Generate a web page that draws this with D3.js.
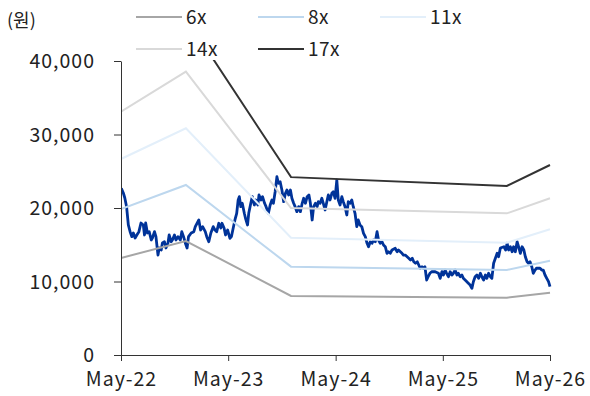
<!DOCTYPE html>
<html>
<head>
<meta charset="utf-8">
<script src="https://cdn.jsdelivr.net/npm/d3@7"></script>
<style>
  body { margin: 0; background: #fff; }
  svg text { font-family: "Noto Sans CJK KR", "Noto Sans", sans-serif; fill: #222; }
</style>
</head>
<body>
<div id="chart"></div>
<script>
// 주가 (원)
var priceDates = [
  "2022-05-02","2022-05-09","2022-05-14","2022-05-20","2022-05-26","2022-06-01","2022-06-07","2022-06-12","2022-06-18","2022-06-24",
  "2022-07-01","2022-07-08","2022-07-16","2022-07-20","2022-07-24","2022-07-30","2022-08-05","2022-08-12","2022-08-16","2022-08-23",
  "2022-08-28","2022-09-04","2022-09-08","2022-09-15","2022-09-19","2022-09-26","2022-10-01","2022-10-08","2022-10-12","2022-10-19",
  "2022-10-23","2022-10-30","2022-11-04","2022-11-11","2022-11-19","2022-11-24","2022-11-30","2022-12-06","2022-12-12","2022-12-17",
  "2022-12-26","2023-01-04","2023-01-09","2023-01-21","2023-01-27","2023-02-03","2023-02-12","2023-02-17","2023-02-24","2023-03-03",
  "2023-03-11","2023-03-17","2023-03-23","2023-03-30","2023-04-06","2023-04-10","2023-04-17","2023-04-22","2023-04-29","2023-05-07",
  "2023-05-12","2023-05-18","2023-05-24","2023-05-30","2023-06-04","2023-06-08","2023-06-13","2023-06-18","2023-06-25","2023-06-29",
  "2023-07-06","2023-07-10","2023-07-17","2023-07-22","2023-07-29","2023-08-03","2023-08-10","2023-08-14","2023-08-21","2023-08-26",
  "2023-09-02","2023-09-07","2023-09-15","2023-09-21","2023-09-27","2023-10-02","2023-10-08","2023-10-14","2023-10-19","2023-10-25",
  "2023-10-31","2023-11-06","2023-11-12","2023-11-17","2023-11-23","2023-11-29","2023-12-04","2023-12-10","2023-12-15","2023-12-21",
  "2023-12-27","2024-01-02","2024-01-08","2024-01-13","2024-01-19","2024-01-25","2024-01-31","2024-02-05","2024-02-11","2024-02-16",
  "2024-02-22","2024-02-28","2024-03-03","2024-03-09","2024-03-15","2024-03-20","2024-03-26","2024-04-01","2024-04-06","2024-04-12",
  "2024-04-18","2024-04-23","2024-04-29","2024-05-05","2024-05-10","2024-05-16","2024-05-22","2024-05-27","2024-06-02","2024-06-08",
  "2024-06-13","2024-06-19","2024-06-25","2024-06-30","2024-07-06","2024-07-12","2024-07-17","2024-07-23","2024-07-29","2024-08-04",
  "2024-08-10","2024-08-16","2024-08-21","2024-08-27","2024-09-02","2024-09-07","2024-09-13","2024-09-19","2024-09-24","2024-09-30",
  "2024-10-06","2024-10-11","2024-10-17","2024-10-23","2024-10-28","2024-11-03","2024-11-09","2024-11-20","2024-11-26","2024-12-01",
  "2024-12-13","2024-12-18","2024-12-24","2025-01-05","2025-01-11","2025-01-17","2025-01-22","2025-01-28","2025-02-03","2025-02-08",
  "2025-02-13","2025-02-19","2025-02-24","2025-03-01","2025-03-07","2025-03-12","2025-03-18","2025-03-24","2025-04-05","2025-04-16",
  "2025-04-22","2025-04-28","2025-05-03","2025-05-09","2025-05-14","2025-05-20","2025-05-26","2025-06-01","2025-06-06","2025-06-12",
  "2025-06-18","2025-06-23","2025-06-29","2025-07-05","2025-07-10","2025-07-16","2025-07-22","2025-07-27","2025-08-02","2025-08-08",
  "2025-08-13","2025-08-19","2025-08-25","2025-08-31","2025-09-06","2025-09-11","2025-09-17","2025-09-23","2025-09-28","2025-10-04",
  "2025-10-10","2025-10-15","2025-10-21","2025-10-27","2025-11-02","2025-11-07","2025-11-13","2025-11-25","2025-12-01","2025-12-06",
  "2025-12-11","2025-12-17","2025-12-23","2025-12-28","2026-01-03","2026-01-09","2026-01-14","2026-01-20","2026-01-26","2026-02-01",
  "2026-02-06","2026-02-12","2026-02-17","2026-02-22","2026-02-28","2026-03-05","2026-03-11","2026-03-16","2026-03-28","2026-04-03",
  "2026-04-08","2026-04-14","2026-04-20","2026-04-26","2026-05-01"
];
var priceValues = [
  22680,22040,21360,20180,17690,16780,16100,16600,15920,16330,
  16780,17960,17690,16330,17960,16600,16780,15650,15920,16780,
  16100,13600,14560,14290,15240,15410,14560,15240,16330,15410,
  15650,16330,15650,16100,15650,16780,16100,15240,14560,16100,
  16600,16780,17460,18370,17010,17460,16780,16100,15410,16600,
  17460,17010,16780,17920,17280,17920,17280,16330,17010,15880,
  16100,17240,18370,19280,21090,21540,20180,20640,19280,18600,
  17690,19280,20640,21540,20410,21090,20410,21770,21090,21540,
  20640,20180,19280,20410,21090,20640,22220,24260,23360,23580,
  22450,20860,22000,22450,21770,22450,21320,20640,20180,19500,
  20180,19500,20640,21320,20640,21540,21770,20640,18370,20180,
  20640,20180,20860,20640,21320,20640,19730,20860,21770,21090,
  22000,22220,21320,23810,21090,20410,21540,20860,20180,19050,
  20860,20640,21090,20180,19280,17460,18370,17690,17460,16560,
  16100,15200,14730,15410,15200,15650,15410,16780,15650,15200,
  15410,14970,14730,13840,14050,13840,14290,14520,14050,14290,
  13840,13600,13600,13160,12920,13160,12690,12480,12690,12240,
  11800,12010,11800,12010,10200,10650,11120,11330,11330,11120,
  10430,11330,10880,11560,11120,10650,11330,10880,11120,11560,
  10880,11120,10650,10880,10430,10200,9970,9750,9520,9070,
  9970,10650,10880,10430,11120,10650,10200,10880,10430,11120,
  10650,10430,12480,13160,13840,13370,14560,14730,14290,15200,
  14290,14730,14050,14730,14050,15410,14730,13840,14730,14290,
  13370,12690,12480,12690,12010,11120,11560,11800,11800,11560,
  11560,10880,10430,9970,9290
];

// PER 밴드
var bandDates = ["2022-05-01", "2022-12-08", "2023-12-01", "2025-12-05", "2026-05-01"];
var band6x  = [13200, 15510, 8030, 7800, 8480];
var band8x  = [19860, 23130, 12020, 11570, 12830];
var band11x = [26670, 30840, 15960, 15280, 17100];
var band14x = [33110, 38550, 20000, 19270, 21320];
var band17x = [40300, 45900, 24200, 23000, 25850];
var bandNames = ["6x", "8x", "11x", "14x", "17x"];
var bandColors = ["#a6a6a6", "#bdd7ee", "#e3effa", "#d9d9d9", "#333333"];

var xTickDates = ["2022-05-01", "2023-05-01", "2024-05-01", "2025-05-01", "2026-05-01"];
var yTicks = [0, 10000, 20000, 30000, 40000];

var chartW = 590, chartH = 396;
var plotLeft = 121, plotRight = 550, plotTop = 61, plotBottom = 355;
var parse = d3.timeParse("%Y-%m-%d");
var labelFont = '"Noto Sans CJK KR", "Noto Sans", sans-serif';

var svg = d3.select('#chart')
            .append('svg')
            .attr('width', chartW)
            .attr('height', chartH);

var x = d3.scaleTime()
          .domain([parse(xTickDates[0]), parse(xTickDates[xTickDates.length - 1])])
          .range([plotLeft, plotRight]);
var y = d3.scaleLinear()
          .domain([0, 40000])
          .range([plotBottom, plotTop]);

svg.append('clipPath')
  .attr('id', 'plot-clip')
  .append('rect')
  .attr('x', plotLeft)
  .attr('y', plotTop - 1)
  .attr('width', plotRight - plotLeft + 2)
  .attr('height', plotBottom - plotTop + 1);

var priceData = priceDates.map(function(d, i) {
  return { date: parse(d), value: priceValues[i] };
});
var bands = [band6x, band8x, band11x, band14x, band17x].map(function(vals, i) {
  return {
    name: bandNames[i],
    color: bandColors[i],
    points: bandDates.map(function(d, j) { return { date: parse(d), value: vals[j] }; })
  };
});

var line = d3.line()
  .x(function(d) { return x(d.date); })
  .y(function(d) { return y(d.value); });

var plot = svg.append('g').attr('clip-path', 'url(#plot-clip)');

// 주가 먼저, 밴드가 위에 겹침
plot.append('path')
  .attr('d', line(priceData))
  .attr('fill', 'none')
  .attr('stroke', '#003399')
  .attr('stroke-width', 2.8)
  .attr('stroke-linejoin', 'round');

plot.selectAll('.band')
  .data(bands)
  .enter().append('path')
  .attr('class', 'band')
  .attr('d', function(d) { return line(d.points); })
  .attr('fill', 'none')
  .attr('stroke', function(d) { return d.color; })
  .attr('stroke-width', 2);

// 축
var yAxis = d3.axisLeft(y)
  .tickValues(yTicks)
  .tickFormat(d3.format(','))
  .tickSizeInner(7)
  .tickSizeOuter(0)
  .tickPadding(19);
var xAxis = d3.axisBottom(x)
  .tickValues(xTickDates.map(parse))
  .tickFormat(d3.timeFormat('%b-%y'))
  .tickSizeInner(6)
  .tickSizeOuter(0)
  .tickPadding(11);

var gY = svg.append('g')
  .attr('transform', 'translate(' + plotLeft + ',0)')
  .call(yAxis);
var gX = svg.append('g')
  .attr('transform', 'translate(0,' + plotBottom + ')')
  .call(xAxis);

[gX, gY].forEach(function(g) {
  g.select('.domain').attr('stroke', '#333');
  g.selectAll('.tick line').attr('stroke', '#333');
  g.selectAll('.tick text')
    .attr('font-size', 19.5)
    .attr('letter-spacing', 1)
    .attr('font-family', labelFont)
    .attr('fill', '#222');
});
gY.selectAll('.tick text').attr('dy', '0.35em');

svg.append('text')
  .attr('x', 7)
  .attr('y', 27)
  .attr('font-size', 18)
  .text('(원)');

// 범례
var legendPos = [[136, 17], [258, 17], [380, 17], [136, 49], [258, 49]];
var legend = svg.append('g');
bands.forEach(function(b, i) {
  var p = legendPos[i];
  legend.append('line')
    .attr('x1', p[0]).attr('x2', p[0] + 46)
    .attr('y1', p[1]).attr('y2', p[1])
    .attr('stroke', b.color)
    .attr('stroke-width', 2);
  legend.append('text')
    .attr('x', p[0] + 50)
    .attr('y', p[1])
    .attr('dy', '0.35em')
    .attr('font-size', 19)
    .attr('letter-spacing', 0.5)
    .text(b.name);
});
</script>
</body>
</html>
